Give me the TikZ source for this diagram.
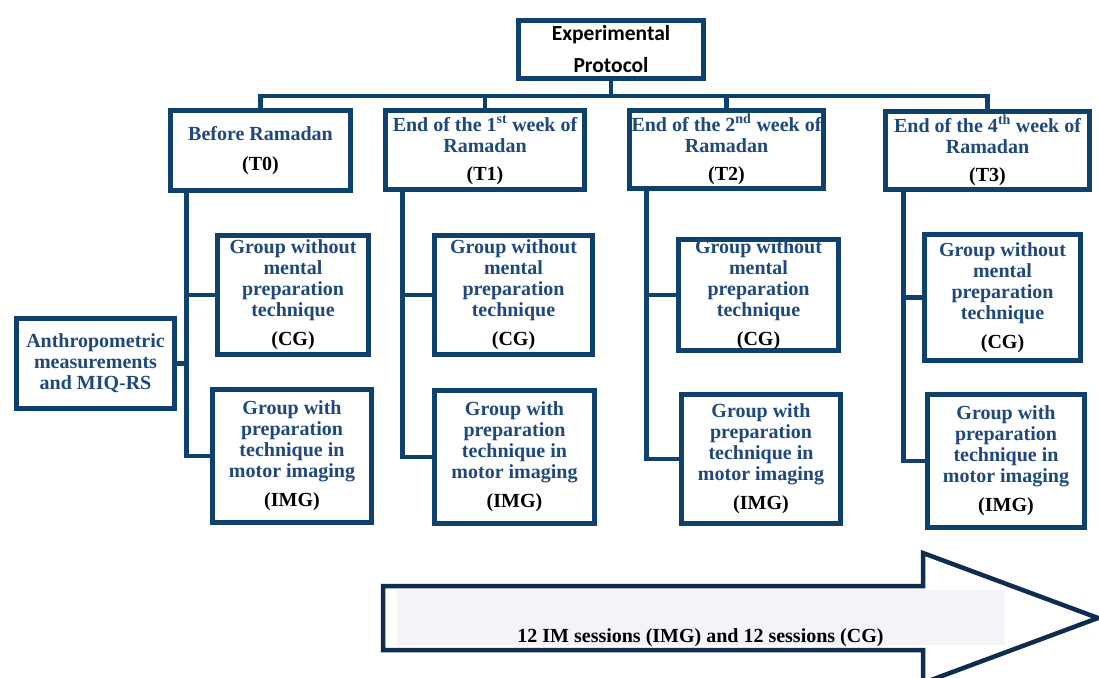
\documentclass[tikz,border=0pt]{standalone}
\usepackage{fontspec}
\setmainfont{Liberation Serif}
\newfontfamily\calib{Carlito}
\usetikzlibrary{calc}
\definecolor{boxc}{HTML}{0F416F}
\definecolor{txtc}{HTML}{1F497D}
\definecolor{arrc}{HTML}{0F2D50}
\definecolor{shadec}{HTML}{F4F4F8}
\begin{document}
\begin{tikzpicture}[x=1pt,y=-1pt,
  box/.style={draw=boxc, line width=4.8pt, inner sep=0pt, align=center,
    font=\fontsize{20}{21}\selectfont\bfseries, text=txtc},
  topbox/.style={box, font=\calib\fontsize{21.5}{32}\selectfont\bfseries, text=black},
  conn/.style={draw=boxc, line width=4.8pt, line join=miter},
  arrowshape/.style={draw=arrc, line width=4.5pt, line join=miter, fill=white}]
\useasboundingbox (0,0) rectangle (1099,677);

% arrow at the bottom
\draw[arrowshape] (383,586) -- (923,586) -- (923,553) -- (1098,618) -- (923,683) -- (923,650) -- (383,650) -- cycle;
\fill[shadec] (397,590) rectangle (1005,645);
\node[font=\fontsize{20}{21}\selectfont\bfseries, text=black, anchor=base, inner sep=0pt] (arrtxt) at (700.5,642) {12 IM sessions (IMG) and 12 sessions (CG)};

% top box
\node[topbox, minimum width=185, minimum height=58] (top) at (611,49.5) {Experimental\\Protocol};

% time point boxes
\node[box, minimum width=180, minimum height=80] (t0) at (260.5,150.5) {Before Ramadan\\[9pt]\textcolor{black}{(T0)}};
\node[box, minimum width=199, minimum height=79] (t1) at (485,150) {End of the 1\textsuperscript{st} week of\\Ramadan\\[7pt]\textcolor{black}{(T1)}};
\node[box, minimum width=194, minimum height=78] (t2) at (726.5,149.5) {End of the 2\textsuperscript{nd} week of\\Ramadan\\[7pt]\textcolor{black}{(T2)}};
\node[box, minimum width=204, minimum height=78] (t3) at (987.5,150.5) {End of the 4\textsuperscript{th} week of\\Ramadan\\[7pt]\textcolor{black}{(T3)}};

% anthropometric box
\node[box, minimum width=158, minimum height=90] (anth) at (95.5,363.5) {Anthropometric\\measurements\\and MIQ-RS};

% group boxes
\newcommand{\cgtext}{Group without\\mental\\preparation\\technique\\[8pt]\textcolor{black}{(CG)}}
\newcommand{\imgtext}{Group with\\preparation\\technique in\\motor imaging\\[8pt]\textcolor{black}{(IMG)}}
\node[box, minimum width=151, minimum height=119] (cg0) at (293,295) {\cgtext};
\node[box, minimum width=159, minimum height=133] (img0) at (292,456) {\imgtext};
\node[box, minimum width=158, minimum height=119] (cg1) at (513.5,295) {\cgtext};
\node[box, minimum width=160, minimum height=133] (img1) at (514.5,457) {\imgtext};
\node[box, minimum width=160, minimum height=111] (cg2) at (758.5,295) {\cgtext};
\node[box, minimum width=159, minimum height=129] (img2) at (761,459) {\imgtext};
\node[box, minimum width=156, minimum height=126] (cg3) at (1002.5,297.5) {\cgtext};
\node[box, minimum width=157, minimum height=133] (img3) at (1006,461) {\imgtext};

% bus from top box
\coordinate (bus) at (611,96);
\draw[conn] (top.south) -- (top.south |- bus);
\draw[conn] (t0.north) |- (bus) -| (t3.north);
\draw[conn] (t1.north) -- (t1.north |- bus);
\draw[conn] (t2.north) -- (t2.north |- bus);

% trunks
\coordinate (k0) at ($(t0.south west)+(18,0)$);
\coordinate (k1) at ($(t1.south west)+(19,0)$);
\coordinate (k2) at ($(t2.south west)+(19,0)$);
\coordinate (k3) at ($(t3.south west)+(20,0)$);
\draw[conn] (k0) |- (img0.west);
\draw[conn] (cg0.west) -- (cg0.west -| k0);
\draw[conn] (anth.east) -- (anth.east -| k0);
\draw[conn] (k1) |- (img1.west);
\draw[conn] (cg1.west) -- (cg1.west -| k1);
\draw[conn] (k2) |- (img2.west);
\draw[conn] (cg2.west) -- (cg2.west -| k2);
\draw[conn] (k3) |- (img3.west);
\draw[conn] (cg3.west) -- (cg3.west -| k3);
\end{tikzpicture}
\end{document}
